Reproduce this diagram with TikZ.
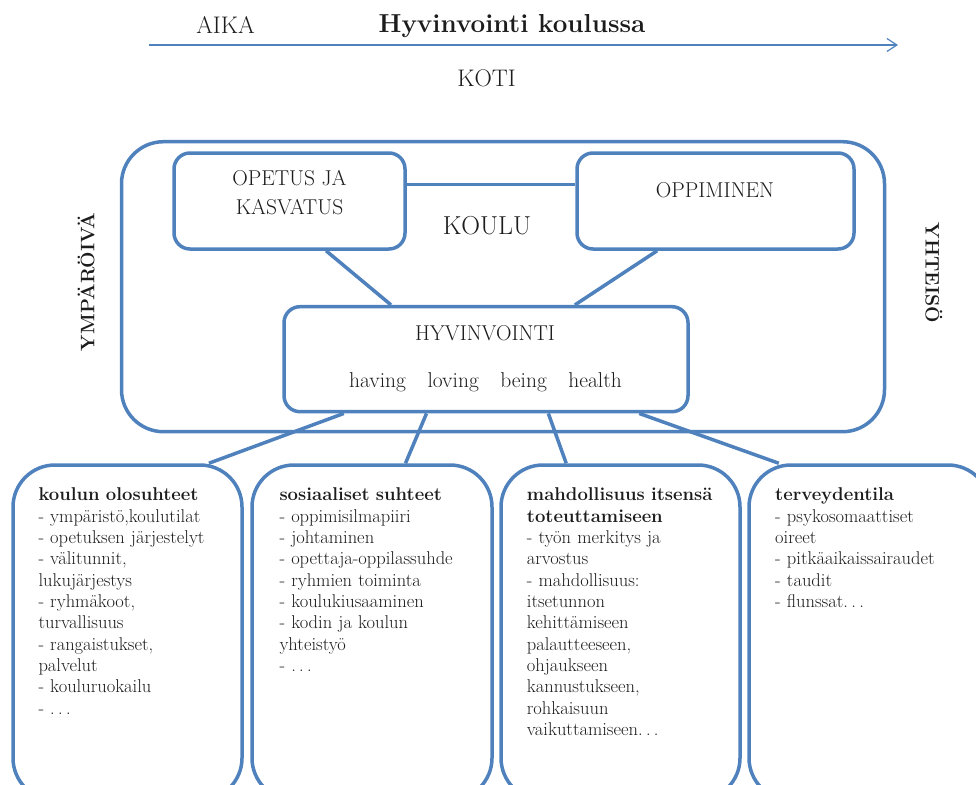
\documentclass[tikz,border=0pt]{standalone}
\usepackage{fontspec}
\usetikzlibrary{arrows.meta,calc}
\definecolor{boxblue}{RGB}{79,129,189}
\definecolor{ink}{RGB}{28,28,28}
\newcommand{\pisteet}{.\kern.18em.\kern.18em.}
\begin{document}
\begin{tikzpicture}[x=1pt,y=-1pt,
    box/.style={draw=boxblue,line width=3.5pt,rounded corners=16pt,inner sep=0pt},
    bigbox/.style={box,rounded corners=42pt},
    link/.style={draw=boxblue,line width=3.5pt},
    lbl/.style={text=ink,inner sep=0pt,anchor=base,font=\fontsize{21.5}{28.7}\selectfont},
    list/.style={text=ink,inner sep=0pt,anchor=base west,align=left,text width=215pt,
      font=\fontsize{18.5}{21.35}\selectfont}]

  \useasboundingbox (0,0) rectangle (976,784);
  \clip (0,0) rectangle (976,784);

  % otsikko ja aika-akseli
  \node[lbl,font=\bfseries\fontsize{26}{28}\selectfont] (title) at (512,32.8) {Hyvinvointi koulussa};
  \node[lbl,font=\fontsize{24}{26}\selectfont] (aika) at (225.5,33.7) {AIKA};
  \coordinate (t0) at (149,45);
  \coordinate (t1) at (898,45);
  \draw[boxblue,line width=1.2pt,-{Straight Barb[length=10pt,width=13pt]}] (t0) -- (t1);
  \node[lbl,font=\fontsize{24}{26}\selectfont] (koti) at (486.5,86) {KOTI};

  \node[lbl,anchor=center,rotate=90,font=\bfseries\fontsize{19.5}{21}\selectfont] (ymp) at (86,282) {YMPÄRÖIVÄ};
  \node[lbl,anchor=center,rotate=-90,font=\bfseries\fontsize{19.5}{21}\selectfont] (yht) at (934,273) {YHTEISÖ};

  % laatikot
  \begin{scope}[every node/.style={box}]
    \node[bigbox,minimum width=763,minimum height=290] (koulu) at (503,286.7) {};
    \node[minimum width=231,minimum height=96]  (opetus)    at (289.5,201)   {};
    \node[minimum width=277,minimum height=96]  (oppiminen) at (715.5,201)   {};
    \node[minimum width=404,minimum height=105] (hyv)       at (486,359.2)   {};
    \node[bigbox,minimum width=229,minimum height=335] (olo)   at (127.5,632.5) {};
    \node[bigbox,minimum width=240,minimum height=335] (sos)   at (372,632.5)   {};
    \node[bigbox,minimum width=239,minimum height=335] (mahd)  at (620.5,632.5) {};
    \node[bigbox,minimum width=241,minimum height=335] (terv)  at (869.5,632.5) {};
  \end{scope}

  \node[lbl,font=\fontsize{26}{28}\selectfont] (kouluname) at (487,234.7) {KOULU};
  \node[lbl,align=center] (opetusname) at (289.5,214) {OPETUS JA\\KASVATUS};
  \node[lbl] (oppname) at (715,197.3) {OPPIMINEN};
  \node[lbl,font=\fontsize{21.5}{24}\selectfont] (hyvname) at (485,340.7) {HYVINVOINTI};
  \node[lbl,font=\fontsize{21.5}{24}\selectfont] (hlbh) at (485.5,387) {having\quad loving\quad being\quad health};

  % yhteydet
  \draw[link] ($(opetus.north east)!.333!(opetus.south east)$) -- ($(oppiminen.north west)!.333!(oppiminen.south west)$);
  \draw[link] ($(opetus.south west)!.656!(opetus.south east)$) -- ($(hyv.north west)!.267!(hyv.north east)$);
  \draw[link] ($(oppiminen.south west)!.292!(oppiminen.south east)$) -- ($(hyv.north west)!.718!(hyv.north east)$);
  \draw[link] ($(hyv.south west)!.151!(hyv.south east)$) -- ($(olo.north west)!.85!(olo.north east)$);
  \draw[link] ($(hyv.south west)!.354!(hyv.south east)$) -- ($(sos.north west)!.6375!(sos.north east)$);
  \draw[link] ($(hyv.south west)!.653!(hyv.south east)$) -- ($(mahd.north west)!.276!(mahd.north east)$);
  \draw[link] ($(hyv.south west)!.876!(hyv.south east)$) -- ($(terv.north west)!.129!(terv.north east)$);

  % listat
  \node[list] (olotext) at (38.3,500.7) {\textbf{koulun olosuhteet}\\
    - ympäristö,koulutilat\\
    - opetuksen järjestelyt\\
    - välitunnit,\\
    lukujärjestys\\
    - ryhmäkoot,\\
    turvallisuus\\
    - rangaistukset,\\
    palvelut\\
    - kouluruokailu\\
    - \pisteet};
  \node[list] (sostext) at (279.3,500.7) {\textbf{sosiaaliset suhteet}\\
    - oppimisilmapiiri\\
    - johtaminen\\
    - opettaja-oppilassuhde\\
    - ryhmien toiminta\\
    - koulukiusaaminen\\
    - kodin ja koulun\\
    yhteistyö\\
    - \pisteet};
  \node[list] (mahdtext) at (526.7,500.7) {\textbf{mahdollisuus itsensä}\\
    \textbf{toteuttamiseen}\\
    - työn merkitys ja\\
    arvostus\\
    - mahdollisuus:\\
    itsetunnon\\
    kehittämiseen\\
    palautteeseen,\\
    ohjaukseen\\
    kannustukseen,\\
    rohkaisuun\\
    vaikuttamiseen\pisteet};
  \node[list] (tervtext) at (775,500.7) {\textbf{terveydentila}\\
    - psykosomaattiset\\
    oireet\\
    - pitkäaikaissairaudet\\
    - taudit\\
    - flunssat\pisteet};

\end{tikzpicture}
\end{document}
